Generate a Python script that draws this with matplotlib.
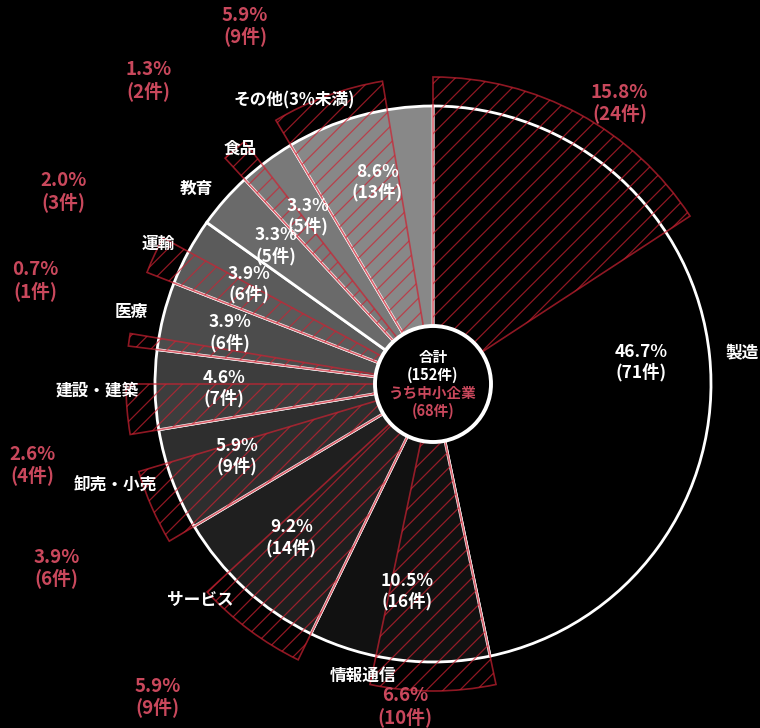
import numpy as np
import matplotlib.pyplot as plt
from matplotlib.patches import Wedge, Circle

plt.rcParams['font.family'] = ['Noto Sans CJK JP', 'DejaVu Sans']
plt.rcParams['hatch.linewidth'] = 0.9

# ── データ ──────────────────────────────────────────────
categories = ['製造', '情報通信', 'サービス', '卸売・小売', '建設・建築',
              '医療', '運輸', '教育', '食品', 'その他(3%未満)']
total_counts = [71, 16, 14, 9, 7, 6, 6, 5, 5, 13]
sme_counts = [24, 10, 9, 6, 4, 1, 3, 0, 2, 9]

# ── レイアウト ──────────────────────────────────────────
W, H = 760, 728
CX, CY = 433, H - 384
R_PIE = 278
R_SME = 307
R_HOLE = 58
R_INNER_LABEL = 209
R_CAT_LABEL = 294
# 赤ラベルの位置 (半径, 12時から時計回りの角度)
sme_label_pos = [(337, 33.6), (324, 185), (417, 221.3), (419, 243.9),
                 (409, 258.6), (411, 284.6), (417, 297.5), None,
                 (416, 316.8), (404, 332.3)]

greys = ['#000000', '#111111', '#1f1f1f', '#2e2e2e', '#3d3d3d',
         '#4c4c4c', '#5b5b5b', '#6a6a6a', '#797979', '#888888']
RED = '#cc2232'
RED_TXT = '#c9485c'


def polar(r, phi):
    """12時方向から時計回りの角度 phi (度) -> データ座標"""
    a = np.deg2rad(phi)
    return CX + r * np.sin(a), CY + r * np.cos(a)


fig = plt.figure(figsize=(W / 100, H / 100), dpi=100)
fig.patch.set_facecolor('black')
ax = fig.add_axes([0, 0, 1, 1])
ax.set_facecolor('black')
ax.set_xlim(0, W)
ax.set_ylim(0, H)
ax.set_aspect('equal')
ax.axis('off')

n_total = sum(total_counts)
deg_per = 360.0 / n_total
starts = np.concatenate([[0], np.cumsum(total_counts)[:-1]]) * deg_per

# 全体のパイ
for s, c, col in zip(starts, total_counts, greys):
    w = c * deg_per
    ax.add_patch(Wedge((CX, CY), R_PIE, 90 - (s + w), 90 - s,
                       facecolor=col, edgecolor='white', linewidth=2.0,
                       zorder=1))

# 中小企業（ハッチ）
for s, c in zip(starts, sme_counts):
    if c == 0:
        continue
    w = c * deg_per
    ax.add_patch(Wedge((CX, CY), R_SME, 90 - (s + w), 90 - s,
                       facecolor='none', edgecolor=RED, hatch='//',
                       linewidth=1.2, alpha=0.7, zorder=2))

# 中央の円
ax.add_patch(Circle((CX, CY), R_HOLE, facecolor='black', edgecolor='white',
                    linewidth=2.8, zorder=3))

center_lines = [('合計', 'white'), (f'({n_total}件)', 'white'),
                ('うち中小企業', RED_TXT), (f'({sum(sme_counts)}件)', RED_TXT)]
for k, (txt, col) in enumerate(center_lines):
    ax.text(CX, CY + 27 - 18 * k, txt, color=col, fontsize=10.5,
            fontweight='bold', ha='center', va='center', zorder=4)

# ラベル
for i, (cat, s, c, sc) in enumerate(zip(categories, starts, total_counts,
                                         sme_counts)):
    mid = s + c * deg_per / 2
    x, y = polar(R_INNER_LABEL, mid)
    ax.text(x, y, f'{c / n_total * 100:.1f}%\n({c}件)', color='white',
            fontsize=12.5, fontweight='bold', ha='center', va='center',
            linespacing=1.15, zorder=5)

    x, y = polar(R_CAT_LABEL, mid)
    ax.text(x, y, cat, color='white', fontsize=12, fontweight='bold',
            ha='left' if x > CX else 'right', va='center', zorder=5)

    if sme_label_pos[i] is not None and sc > 0:
        r, phi = sme_label_pos[i]
        x, y = polar(r, phi)
        ax.text(x, y, f'{sc / n_total * 100:.1f}%\n({sc}件)', color=RED_TXT,
                fontsize=13.5, fontweight='bold', ha='center', va='center',
                linespacing=1.1, zorder=5)

fig.savefig('out.png', dpi=100, facecolor=fig.get_facecolor())
